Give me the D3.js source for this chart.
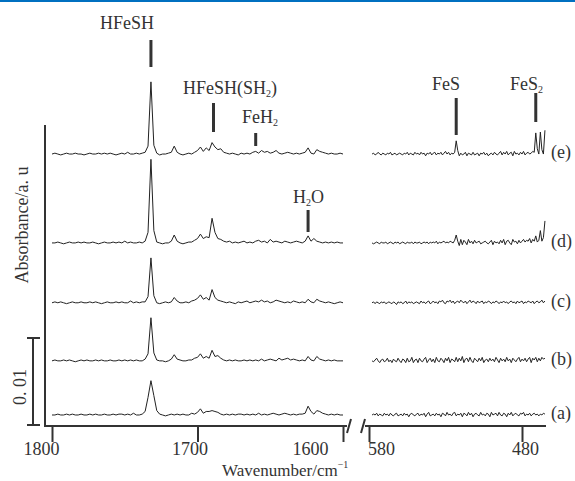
<!DOCTYPE html>
<html>
<head>
<meta charset="utf-8">
<script src="https://cdn.jsdelivr.net/npm/d3@7/dist/d3.min.js"></script>
<style>
    body { margin: 0; background: #fff; }
    text { font-family: "Liberation Serif", "Times New Roman", serif; fill: #333; }
</style>
</head>
<body>
<svg id="chart"></svg>
<script>
// wavenumber grids (cm-1) of the two panels
const leftWavenumbers = d3.range(1800, 1598, -2);   // 1800 .. 1600
const rightWavenumbers = d3.range(578, 464, -1);    // 578 .. 465

// absorbance values in units of 1e-4
const leftA = [0,0,1,0,0,1,0,1,0,0, 1,0,0,1,0,1,0,0,1,0, 0,1,0,1,1,0,1,0,2,0, 0,1,4,20,39,22,5,1,0,-1,
    0,1,0,1,0,1,0,0,2,1, 3,7,2,4,4,5,4,3,1,0, 1,0,1,0,1,1,0,1,0,1, 0,2,0,1,0,1,2,1,0,1,
    2,1,0,1,0,1,1,2,10,4, 1,5,4,2,1,0,1,0,1,0, 0];
const leftB = [0,1,0,0,1,0,1,0,-1,0, 1,0,1,0,0,1,0,1,0,0, 1,0,0,1,0,1,0,1,0,1, 0,0,2,8,49,9,1,0,0,-1,
    0,2,7,2,1,0,0,1,1,3, 4,8,3,5,3,12,5,6,3,1, 0,1,0,1,0,0,1,0,1,0, 1,0,2,0,1,2,1,0,3,1,
    2,3,1,2,1,0,1,0,5,1, 0,5,2,1,0,1,0,1,0,0, 0];
const leftC = [0,1,0,1,0,-1,0,1,0,0, 1,0,0,1,0,1,0,-1,0,1, 0,0,1,0,1,0,0,2,0,1, 0,1,1,7,51,8,0,-1,0,1,
    0,1,6,2,0,0,1,0,2,3, 5,9,4,6,3,15,6,3,2,1, 0,1,0,-1,1,0,1,2,0,1, 2,1,3,1,2,0,1,3,2,1,
    0,1,0,2,1,0,1,0,4,1, 0,4,2,1,0,1,0,-1,0,1, 0];
const leftD = [0,0,1,0,-1,0,1,0,0,1, 0,1,0,0,1,0,-1,0,1,0, 0,1,0,1,0,2,0,1,0,0, 1,0,2,12,95,14,1,0,-1,0,
    0,2,9,2,0,-1,0,1,1,3, 5,10,5,7,6,28,12,5,4,2, 1,2,0,1,0,1,2,0,1,0, 2,3,1,2,0,4,1,2,1,0,
    2,1,0,1,2,1,0,2,8,2, 5,2,1,0,1,0,1,0,1,0, 0];
const leftE = [0,1,0,-1,0,1,0,0,1,0, 0,-1,0,1,0,0,1,0,1,0, 1,0,-1,0,1,0,2,0,0,1, 0,1,2,9,82,10,1,-1,0,0,
    1,2,9,2,0,-1,0,1,0,2, 4,8,3,7,4,13,8,5,6,2, 1,0,1,0,-1,1,0,1,0,2, 3,1,4,2,3,1,2,4,1,0,
    1,2,1,0,1,0,1,2,7,1, 0,5,3,2,1,0,1,0,0,1, 0];

const rightA = [0,1,0,2,-1,1,0,-1,2,0, 1,-1,2,0,-1,1,2,-1,0,1, -1,2,0,1,-2,1,2,0,-1,1, 2,-1,1,0,2,-2,1,3,-1,0,
    1,-1,2,0,1,-2,2,1,-1,3, 0,1,-1,2,3,-1,1,0,2,-2, 2,1,-1,3,0,2,-2,1,2,0, -1,3,0,1,-1,2,1,-2,3,0,
    1,2,-1,3,0,-1,2,1,-2,2, 0,3,-1,1,2,0,-1,2,1,3, -1,1,0,2,-1,1,2,0,1,-1, 1,0,2,1];
const rightB = [0,-1,1,3,0,-2,1,2,-1,0, 3,-1,1,-2,2,0,-1,3,0,-2, 2,1,-2,3,-1,0,4,-2,1,2, -2,3,0,-1,2,4,-2,1,3,-1,
    2,-2,4,0,-1,3,1,-2,3,0, 4,-2,2,1,-1,4,-1,3,0,5, -2,2,3,-1,4,0,-2,3,1,-1, 3,0,4,-2,1,2,-1,3,0,2,
    -1,4,1,-2,3,0,2,-1,4,0, 2,-2,3,1,-1,2,4,-1,2,0, 3,-1,2,4,-2,3,1,4,-1,3, 0,4,2,3];
const rightC = [0,1,-1,1,0,-1,1,0,1,-1, 0,1,0,-1,1,0,-2,1,0,1, -1,0,2,-1,1,0,1,-1,0,1, 0,-1,2,0,1,-1,1,2,-1,0,
    2,0,1,-1,2,1,3,0,-1,2, 1,3,0,2,-1,1,2,0,3,1, 0,2,-1,1,3,0,2,1,-1,2, 0,1,2,-1,1,0,2,1,-1,1,
    0,2,1,-1,1,0,2,0,1,-1, 1,2,0,1,-1,2,0,1,2,-1, 1,0,2,1,0,2,-1,1,2,0, 1,3,0,2];
const rightD = [0,-1,0,1,0,-1,1,0,0,1, -1,0,1,0,-1,1,0,1,-1,0, 1,0,-1,1,0,0,1,-1,1,0, 0,1,-1,0,1,0,1,-1,1,0,
    1,0,2,-1,1,0,1,2,0,1, 0,2,1,0,3,9,2,-3,4,-2, 3,1,-2,4,0,2,-1,3,0,1, 2,-1,0,1,2,0,-1,1,3,-2,
    2,0,1,-1,3,0,4,-2,2,3, 0,-2,4,1,2,-1,3,0,2,4, 1,3,2,5,0,4,2,8,1,3, 14,2,6,25];
const rightE = [0,1,-1,0,2,0,-1,1,0,-1, 1,0,2,-1,0,1,-1,0,1,0, -1,1,0,2,-1,1,0,-1,2,0, 1,-1,2,0,1,-2,1,0,2,-1,
    1,2,-1,1,0,2,-1,1,3,0, 2,-1,1,0,2,15,4,-2,1,-1, 0,2,-2,1,0,-1,2,-1,0,1, -2,1,0,2,-1,1,-2,0,1,-1,
    2,0,-1,1,3,-1,2,0,3,-1, 1,2,-2,3,0,1,-1,2,0,3, -1,1,2,0,1,3,2,24,6,0, 25,5,0,27];

const traceNames = ["(a)", "(b)", "(c)", "(d)", "(e)"];
const traceOffsets = [0.00125, 0.0074, 0.014, 0.0208, 0.0309];   // absorbance stacking
const leftSeries = [leftA, leftB, leftC, leftD, leftE];
const rightSeries = [rightA, rightB, rightC, rightD, rightE];

const leftTicks = [1800, 1700, 1600];
const rightTicks = [580, 480];

// band assignments: panel, wavenumber, label parts [text, sub]
const bands = [
    { panel: "left", wn: 1732, parts: [["HFeSH", ""]] },
    { panel: "left", wn: 1689, parts: [["HFeSH(SH", ""], ["2", "sub"], [")", ""]] },
    { panel: "left", wn: 1660, parts: [["FeH", ""], ["2", "sub"]] },
    { panel: "left", wn: 1624, parts: [["H", ""], ["2", "sub"], ["O", ""]] },
    { panel: "right", wn: 523, parts: [["FeS", ""]] },
    { panel: "right", wn: 471, parts: [["FeS", ""], ["2", "sub"]] }
];

// layout of band markers: label left x, label baseline, marker top/bottom
const bandLayout = [
    { lx: 100, ly: 29, y1: 40, y2: 67 },
    { lx: 183, ly: 94, y1: 103, y2: 132 },
    { lx: 242, ly: 123, y1: 133, y2: 146 },
    { lx: 293, ly: 203, y1: 210, y2: 232 },
    { lx: 432, ly: 90, y1: 98, y2: 135 },
    { lx: 510, ly: 90, y1: 93, y2: 122 }
];

const width = 575, height = 481;
const svg = d3.select("#chart").attr("width", width).attr("height", height);

// blue rule at the top of the page
svg.append("rect").attr("x", 0).attr("y", 0).attr("width", width).attr("height", 2).attr("fill", "#0070C0");

const xLeft = d3.scaleLinear().domain([1800, 1600]).range([52, 343]);
const xRight = d3.scaleLinear().domain([580, 480]).range([369, 522]);
const y = d3.scaleLinear().domain([0, 0.0342]).range([426, 125]);

// spectra
function drawTraces(series, grid, x) {
    series.forEach((vals, k) => {
        const line = d3.line()
            .x((d, i) => x(grid[i]))
            .y(d => y(traceOffsets[k] + d * 1e-4));
        svg.append("path")
           .datum(vals)
           .attr("d", line)
           .attr("fill", "none")
           .attr("stroke", "#222")
           .attr("stroke-width", 1)
           .attr("stroke-linejoin", "round");
    });
}
drawTraces(leftSeries, leftWavenumbers, xLeft);
drawTraces(rightSeries, rightWavenumbers, xRight);

// trace labels
svg.selectAll(".trace-label")
   .data(traceNames)
   .enter()
   .append("text")
   .attr("class", "trace-label")
   .attr("x", 551)
   .attr("y", (d, k) => y(traceOffsets[k]) + 4)
   .attr("font-size", "18px")
   .text(d => d);

// axes
const axisColor = "#333";
const labelDx = { 1800: -11, 1700: -8, 1600: -33, 580: 12, 480: 3 };

function drawAxis(x, ticks) {
    const g = svg.append("g")
        .attr("transform", "translate(0,426)")
        .call(d3.axisBottom(x).tickValues(ticks).tickSize(16).tickSizeOuter(0).tickFormat(d3.format("d")));
    g.select(".domain").remove();
    g.selectAll(".tick line").attr("stroke", axisColor).attr("stroke-width", 2);
    g.selectAll(".tick text")
     .attr("font-family", "Liberation Serif, serif")
     .attr("font-size", "18px")
     .attr("fill", "#333")
     .attr("y", 16)
     .attr("dy", "0.71em")
     .attr("dx", d => labelDx[d]);
}
drawAxis(xLeft, leftTicks);
drawAxis(xRight, rightTicks);

svg.append("path")
   .attr("d", "M45,125V426H347M365,426H546")
   .attr("fill", "none")
   .attr("stroke", axisColor)
   .attr("stroke-width", 2);

// axis break marks
svg.append("path")
   .attr("d", "M347,433L351,419M361,433L365,419")
   .attr("stroke", axisColor)
   .attr("stroke-width", 2);

// x title
const xTitle = svg.append("text")
   .attr("x", 222)
   .attr("y", 476)
   .attr("font-size", "17px");
xTitle.append("tspan").text("Wavenumber/cm");
xTitle.append("tspan").attr("font-size", "10px").attr("dy", -8).text("\u22121");

// y title
svg.append("text")
   .attr("transform", "translate(28,225) rotate(-90)")
   .attr("text-anchor", "middle")
   .attr("font-size", "18px")
   .text("Absorbance/a. u");

// 0.01 scale bar
const barX = 33;
svg.append("path")
   .attr("d", `M${barX - 6},${y(0.01)}H${barX + 7}M${barX},${y(0.01)}V${y(0)}M${barX - 6},${y(0) - 1}H${barX + 7}`)
   .attr("fill", "none")
   .attr("stroke", axisColor)
   .attr("stroke-width", 2);
svg.append("text")
   .attr("transform", `translate(26,${y(0.005) + 5}) rotate(-90)`)
   .attr("text-anchor", "middle")
   .attr("font-size", "18px")
   .text("0. 01");

// band markers and labels
bands.forEach((b, i) => {
    const x = b.panel === "left" ? xLeft : xRight;
    const pos = bandLayout[i];
    svg.append("line")
       .attr("x1", x(b.wn)).attr("x2", x(b.wn))
       .attr("y1", pos.y1).attr("y2", pos.y2)
       .attr("stroke", "#333")
       .attr("stroke-width", 3);
    const t = svg.append("text")
       .attr("x", pos.lx)
       .attr("y", pos.ly)
       .attr("font-size", "18px");
    b.parts.forEach(p => {
        if (p[1] === "sub") {
            t.append("tspan").attr("font-size", "10px").attr("dy", 3).text(p[0]);
        } else {
            const s = t.append("tspan").text(p[0]);
            if (t.selectAll("tspan").size() > 1) s.attr("dy", -3);
        }
    });
});
</script>
</body>
</html>
